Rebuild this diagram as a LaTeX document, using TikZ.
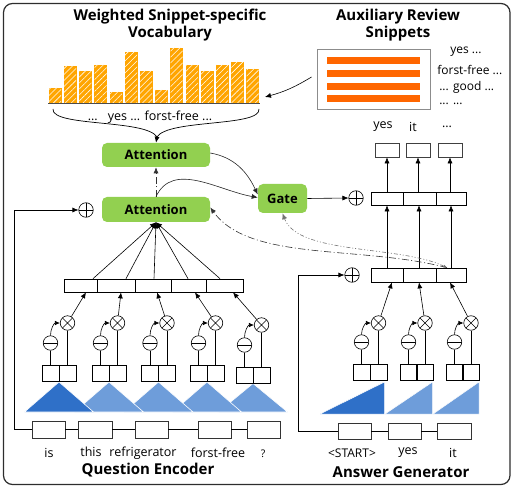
\documentclass[tikz,border=0pt]{standalone}
\usepackage{fontspec}
\setmainfont{Open Sans}
\usetikzlibrary{arrows.meta,patterns.meta,calc}
\definecolor{grn}{RGB}{146,208,80}
\definecolor{barc}{RGB}{255,165,0}
\definecolor{snipc}{RGB}{255,102,0}
\definecolor{dkblue}{RGB}{47,112,200}
\definecolor{ltblue}{RGB}{110,157,218}
\definecolor{framec}{RGB}{45,45,45}
\begin{document}
\begin{tikzpicture}[x=1pt,y=-1pt,
  >={Latex[length=6pt,width=5pt]},
  line width=0.6pt,
  cell/.style={draw=black,line width=0.7pt,inner sep=0pt,minimum width=#1},
  rowcell/.style={cell=#1,minimum height=13},
  pair/.style={cell=17,minimum height=16},
  inbox/.style={draw=black!80,line width=0.7pt,inner sep=0pt,minimum width=33,minimum height=17},
  outbox/.style={draw=black!75,line width=0.7pt,inner sep=0pt,minimum width=24,minimum height=14},
  greenbox/.style={fill=grn,draw=none,rounded corners=5pt,inner sep=0pt,font=\bfseries\fontsize{13}{15}\selectfont},
  opcirc/.style={circle,draw=black,line width=0.6pt,minimum size=14.5,inner sep=0pt},
  oplus/.style={opcirc,path picture={\draw[line width=0.6pt] (path picture bounding box.north)--(path picture bounding box.south) (path picture bounding box.west)--(path picture bounding box.east);}},
  otimes/.style={opcirc,path picture={\draw[line width=0.6pt] (path picture bounding box.north west)--(path picture bounding box.south east) (path picture bounding box.north east)--(path picture bounding box.south west);}},
  ominus/.style={opcirc,path picture={\draw[line width=0.6pt] (path picture bounding box.west)--(path picture bounding box.east);}},
  word/.style={inner sep=0pt,font=\fontsize{12.5}{15}\selectfont},
  snipword/.style={inner sep=0pt,anchor=west,font=\fontsize{12}{14}\selectfont},
  title/.style={inner sep=0pt,align=center,font=\bfseries\fontsize{15}{17}\selectfont},
  dashA/.style={dash pattern=on 7pt off 2.5pt on 1pt off 2.5pt,draw=black!80},
  dashB/.style={dash pattern=on 4pt off 2pt on 1pt off 2pt on 1pt off 2pt,draw=black!55}
]
\useasboundingbox (0,0) rectangle (514,489);
\draw[framec,line width=1.2pt,rounded corners=9pt] (3.5,3.5) rectangle (510,484.5);

% ---------- titles ----------
\node[title] (t1) at (170,25.5) {Weighted Snippet-specific\\Vocabulary};
\node[title] (t2) at (398,25) {Auxiliary Review\\Snippets};

% ---------- histogram ----------
\foreach \i/\t in {0/88,1/66,2/71,3/65,4/92,5/52,6/71,7/90,8/48,9/65,10/71,11/65,12/62,13/69}{
  \path[fill=barc,draw=barc,line width=0.4pt] ({49+15.2*\i},103) rectangle ({61+15.2*\i},\t);
  \path[pattern={Lines[angle=45,distance=4.2pt,line width=0.55pt]},pattern color=white!95!barc] ({49+15.2*\i},103) rectangle ({61+15.2*\i},\t);
}
\draw[black!70,line width=1pt] (48,104) -- (260,104);
\node[word] (voc) at (150,117) {...\hspace{10pt}yes ... forst-free ...};
\coordinate (brace) at (157,137);
\draw[line width=0.7pt] (53,109) .. controls (51,127) and (146,119) .. (brace);
\draw[line width=0.7pt] (259,109) .. controls (261,127) and (168,119) .. (brace);
\coordinate (histR) at (265,97);

% ---------- snippets ----------
\node[draw=black!45,line width=1pt,minimum width=113,minimum height=60,inner sep=0pt] (snip) at (373.5,80) {};
\foreach \y in {61,73.7,86.3,99}{
  \fill[snipc] (327,\y-3.5) rectangle (420,\y+3.5);
}
\node[snipword] (s1) at (450,52) {yes ...};
\node[snipword] (s2) at (437,70) {forst-free ...};
\node[snipword] (s3) at (439,87) {... good ...};
\node[snipword] (s4) at (439,104) {... ...};
\draw[->] ([xshift=-5,yshift=3]snip.west) to[bend left=8] (histR);

% ---------- attention / gate ----------
\node[greenbox,minimum width=108,minimum height=24] (att1) at (156,155) {Attention};
\node[greenbox,minimum width=108,minimum height=25] (att2) at (156,209.5) {Attention};
\node[greenbox,minimum width=49,minimum height=29] (gate) at (282.5,198.5) {Gate};
\draw[->] (brace) -- (att1.north);
\draw[->,dashA] (att2.north) -- (att1.south);
\draw[->,black!85] ([yshift=2]att1.east) to[out=-10,in=115] ([yshift=4]gate.west);
\draw[->,black!85] (att2.north) to[out=65,in=170] ([yshift=1]gate.west);
\node[oplus] (op1) at (86,210) {};
\node[oplus] (op2) at (356,198) {};
\node[oplus] (op3) at (352,275) {};
\draw[->] (gate.east) -- (op2.west);

% ---------- encoder ----------
\node[rowcell=33] (h1) at (80.5,285.5) {};
\node[rowcell=38] (h2) at (116,285.5) {};
\node[rowcell=36] (h3) at (153,285.5) {};
\node[rowcell=35] (h4) at (188.5,285.5) {};
\node[rowcell=37] (h5) at (224.5,285.5) {};
\foreach \i/\s in {1/12.5,2/10,3/1,4/-0.5,5/-4.5}{
  \draw[->] ([xshift=\s]h\i.north) -- (att2.south);
}
% triangles (drawn right to left so left one is on top)
\foreach \ax/\ay/\c in {253/383.5/ltblue,207/382/ltblue,158.5/382/ltblue,109/382/ltblue,59/382/dkblue}{
  \path[fill=\c,draw=white,line width=0.6pt] (\ax,\ay) -- (\ax+34.5,412) -- (\ax-34.5,412) -- cycle;
}
\foreach \i/\L/\y/\s in {1/50.5/373/5.5,2/100.5/373/5,3/150/373/4,4/198.5/373/6.5,5/244.5/375/8.5}{
  \node[pair] (eL\i) at (\L,\y) {};
  \node[pair] (eR\i) at (\L+17,\y) {};
  \node[ominus] (m\i) at (\L,\y-30) {};
  \node[otimes] (x\i) at (\L+17,\y-50) {};
  \draw (eL\i.north) -- (m\i.south);
  \draw (eR\i.north) -- (x\i.south);
  \draw[-{Latex[length=5pt,width=4.5pt]}] (m\i.north) to[out=90,in=180] (x\i.west);
  \draw[->] (x\i) -- ([xshift=\s]h\i.south);
}
\node[inbox] (e1) at (48.5,429.5) {};
\node[inbox,minimum width=34] (e2) at (95,429.5) {};
\node[inbox] (e3) at (151.5,429.5) {};
\node[inbox] (e4) at (214.5,429.5) {};
\node[inbox] (e5) at (263.5,429.5) {};
\draw (e1) -- (e2) -- (e3) -- (e4) -- (e5);
\draw[->] (e1.west) -- ++(-17,0) |- (op1.west);
\node[word] (w1) at (49,453) {is};
\node[word] (w2) at (91,452) {this};
\node[word] (w3) at (143,453) {refrigerator};
\node[word] (w4) at (218,453) {forst-free};
\node[word,font=\fontsize{10.5}{12}\selectfont] (w5) at (263,454) {?};
\node[title] (qe) at (148,470) {Question Encoder};

% ---------- decoder ----------
\node[outbox] (o1) at (387,150) {};
\node[outbox] (o2) at (418,150) {};
\node[outbox] (o3) at (450,150) {};
\node[word] (ol1) at (383,127) {yes};
\node[word] (ol2) at (413,127) {it};
\node[word] (ol3) at (447,127) {...};
\node[rowcell=32] (u1) at (387,198.5) {};
\node[rowcell=33] (u2) at (419.5,198.5) {};
\node[rowcell=30] (u3) at (451,198.5) {};
\node[rowcell=32,minimum height=14] (d1) at (387,275) {};
\node[rowcell=33,minimum height=14] (d2) at (419.5,275) {};
\node[rowcell=30,minimum height=14] (d3) at (451,275) {};
\draw[->] (u1.north) -- (o1.south);
\draw[->] ([xshift=-1.5]u2.north) -- (o2.south);
\draw[->] ([xshift=-1]u3.north) -- (o3.south);
\draw[->] (d1.north) -- (u1.south);
\draw[->] ([xshift=-0.5]d2.north) -- ([xshift=-0.5]u2.south);
\draw[->] (d3.north) -- (u3.south);
\coordinate (dd) at ([xshift=-4]d3.north);
\draw[->,dashA] (dd) .. controls (360,245) and (250,262) .. ([yshift=2]att2.east);
\draw[{Latex[length=3.5pt,width=3pt]}-{Latex[length=6pt,width=5pt]},dashB] (dd) .. controls (400,245) and (298,255) .. (gate.south);
% right triangles
\path[fill=dkblue,draw=white,line width=0.5pt] (320,414) -- (384.5,414) -- (384.5,382) -- cycle;
\path[fill=ltblue,draw=white,line width=0.5pt] (385,414) -- (432.5,414) -- (432.5,382) -- cycle;
\path[fill=ltblue,draw=white,line width=0.5pt] (433,414) -- (479,414) -- (479,382) -- cycle;
\foreach \i/\L/\R/\s in {1/361.5/378.5/5,2/408.5/425/-0.5,3/454.5/471/-1}{
  \node[pair] (aL\i) at (\L,372.5) {};
  \node[pair,minimum width={\R-\L}] (aR\i) at (\R,372.5) {};
  \node[ominus] (n\i) at (\L,342) {};
  \node[otimes] (y\i) at (\R,323) {};
  \draw (aL\i.north) -- (n\i.south);
  \draw (aR\i.north) -- (y\i.south);
  \draw[-{Latex[length=5pt,width=4.5pt]}] (n\i.north) to[out=90,in=180] (y\i.west);
  \draw[->] (y\i) -- ([xshift=\s]d\i.south);
}
\node[inbox,minimum height=16] (a1) at (354.5,431) {};
\node[inbox,minimum height=16] (a2) at (404.5,431) {};
\node[inbox,minimum height=16,minimum width=34] (a3) at (454,431) {};
\draw (a1) -- (a2) -- (a3);
\draw[->] (a1.west) -- ++(-39,0) |- (op3.west);
\node[word,font=\fontsize{12}{14}\selectfont] (al1) at (352,453) {<START>};
\node[word] (al2) at (408,453) {yes};
\node[word] (al3) at (453,453) {it};
\node[title] (ag) at (401,472) {Answer Generator};
\end{tikzpicture}
\end{document}
